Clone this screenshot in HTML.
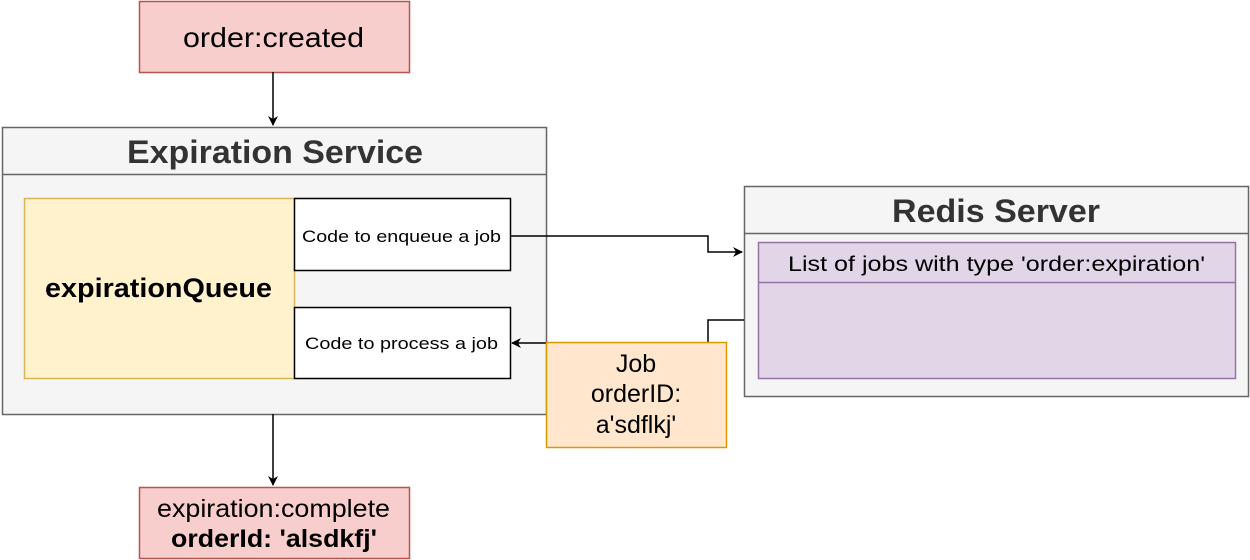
<!DOCTYPE html>
<html><head><meta charset="utf-8"><style>
html,body{margin:0;padding:0;background:#fff;}
svg{display:block;font-family:"Liberation Sans",Helvetica,Arial,sans-serif;}
</style></head><body>
<svg width="1250" height="560" viewBox="0 0 1250 560" xmlns="http://www.w3.org/2000/svg">
<defs>
<marker id="a" markerWidth="10" markerHeight="10" refX="9" refY="5" orient="auto" markerUnits="userSpaceOnUse">
<path d="M0,0 L10,5 L0,10 L3,5 Z" fill="#000"/></marker>
</defs>
<rect x="139.5" y="1.5" width="270" height="71" fill="#f8cecc" stroke="#b85450" stroke-width="1.5"/>
<text x="183" y="47" font-size="28" textLength="181" lengthAdjust="spacingAndGlyphs">order:created</text>
<line x1="273" y1="72" x2="273" y2="125" stroke="#000" stroke-width="1.5" marker-end="url(#a)"/>
<rect x="2.5" y="127.5" width="544" height="287" fill="#f5f5f5" stroke="#666" stroke-width="1.5"/>
<line x1="2.5" y1="174.5" x2="546.5" y2="174.5" stroke="#666" stroke-width="1.5"/>
<text x="127" y="163" font-size="32" font-weight="bold" fill="#333" textLength="296" lengthAdjust="spacingAndGlyphs">Expiration Service</text>
<rect x="24.5" y="198.5" width="270" height="180" fill="#fff2cc" stroke="#d6b656" stroke-width="1.5"/>
<text x="45" y="297" font-size="27" font-weight="bold" textLength="227" lengthAdjust="spacingAndGlyphs">expirationQueue</text>
<rect x="294.5" y="198.5" width="216" height="72" fill="#fff" stroke="#000" stroke-width="1.5"/>
<text x="302" y="242" font-size="17" textLength="199" lengthAdjust="spacingAndGlyphs">Code to enqueue a job</text>
<rect x="294.5" y="307.5" width="216" height="71" fill="#fff" stroke="#000" stroke-width="1.5"/>
<text x="305" y="349" font-size="17" textLength="193" lengthAdjust="spacingAndGlyphs">Code to process a job</text>
<rect x="744.5" y="186.5" width="504" height="210" fill="#f5f5f5" stroke="#666" stroke-width="1.5"/>
<line x1="744.5" y1="233.5" x2="1248.5" y2="233.5" stroke="#666" stroke-width="1.5"/>
<text x="892" y="222" font-size="32" font-weight="bold" fill="#333" textLength="208" lengthAdjust="spacingAndGlyphs">Redis Server</text>
<rect x="758.5" y="242.5" width="477" height="136" fill="#e1d5e7" stroke="#9673a6" stroke-width="1.5"/>
<line x1="758.5" y1="282.5" x2="1235.5" y2="282.5" stroke="#9673a6" stroke-width="1.5"/>
<text x="788" y="271" font-size="21" textLength="417" lengthAdjust="spacingAndGlyphs">List of jobs with type 'order:expiration'</text>
<polyline points="510,236 708,236 708,252 742,252" fill="none" stroke="#000" stroke-width="1.5" marker-end="url(#a)"/>
<polyline points="744,320 708,320 708,342" fill="none" stroke="#000" stroke-width="1.5"/>
<line x1="546" y1="343" x2="512" y2="343" stroke="#000" stroke-width="1.5" marker-end="url(#a)"/>
<rect x="546.5" y="342.5" width="180" height="105" fill="#ffe6cc" stroke="#d79b00" stroke-width="1.5"/>
<text font-size="25" text-anchor="middle"><tspan x="636" y="372">Job</tspan><tspan x="636" y="402">orderID:</tspan><tspan x="636" y="433">a'sdflkj'</tspan></text>
<line x1="273" y1="414" x2="273" y2="485" stroke="#000" stroke-width="1.5" marker-end="url(#a)"/>
<rect x="139.5" y="487.5" width="270" height="71" fill="#f8cecc" stroke="#b85450" stroke-width="1.5"/>
<text x="157" y="517" font-size="25" textLength="233" lengthAdjust="spacingAndGlyphs">expiration:complete</text>
<text x="171" y="547" font-size="25" font-weight="bold" textLength="206" lengthAdjust="spacingAndGlyphs">orderId: 'alsdkfj'</text>
</svg>
</body></html>
